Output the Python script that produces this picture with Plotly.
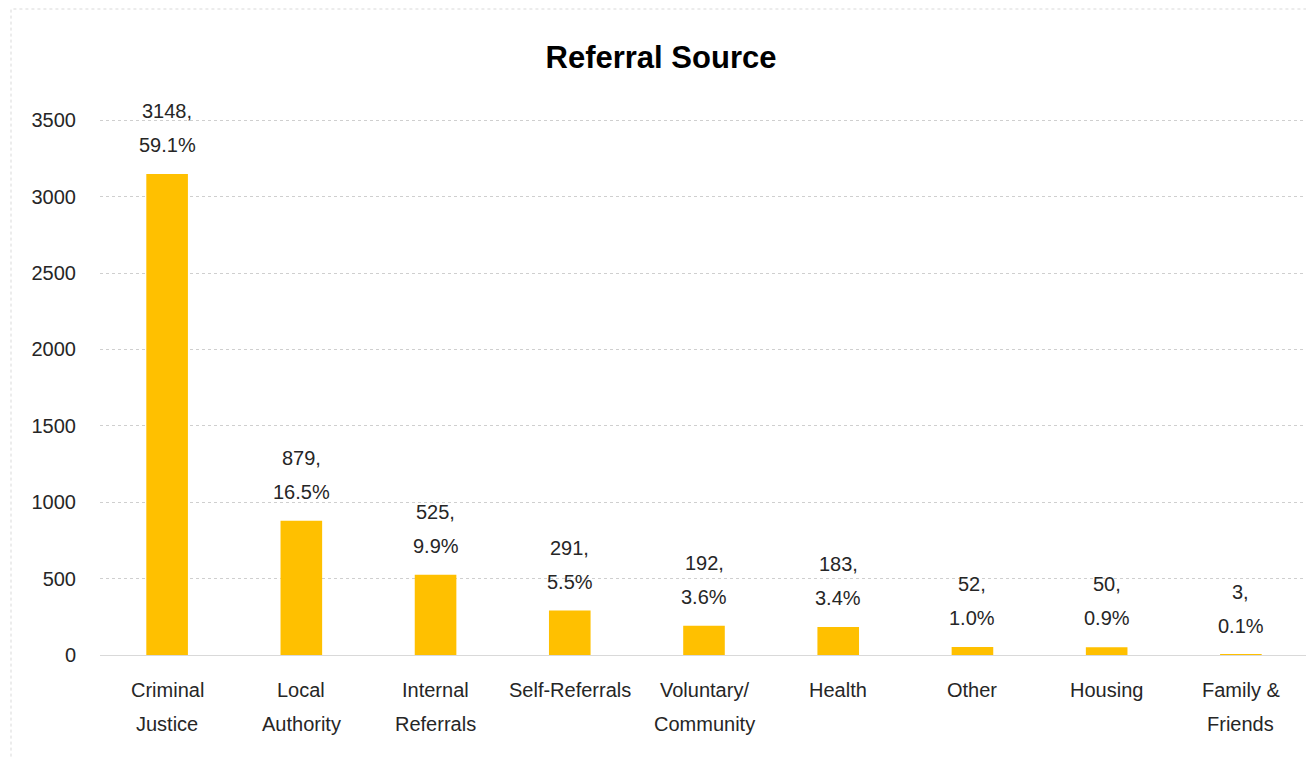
import plotly.graph_objects as go

# Referral source data
categories = ["Criminal Justice", "Local Authority", "Internal Referrals",
              "Self-Referrals", "Voluntary/ Community", "Health", "Other",
              "Housing", "Family & Friends"]
label_lines = [("Criminal", "Justice"), ("Local", "Authority"), ("Internal", "Referrals"),
               ("Self-Referrals", ""), ("Voluntary/", "Community"), ("Health", ""),
               ("Other", ""), ("Housing", ""), ("Family &", "Friends")]
counts = [3148, 879, 525, 291, 192, 183, 52, 50, 3]
shares = ["59.1%", "16.5%", "9.9%", "5.5%", "3.6%", "3.4%", "1.0%", "0.9%", "0.1%"]
y_ticks = [0, 500, 1000, 1500, 2000, 2500, 3000, 3500]

font_family = "Liberation Sans"
text_color = "#262626"
fsize = 20

fig = go.Figure()

fig.add_trace(go.Bar(
    x=categories,
    y=counts,
    marker=dict(color="#FFC000", line=dict(width=0)),
    width=0.31,
    cliponaxis=False,
))

# data labels, two lines each, Excel-like spacing
for cat, c, s in zip(categories, counts, shares):
    fig.add_annotation(x=cat, y=c, text=f"{c},", showarrow=False, yanchor="middle",
                       yshift=63, font=dict(family=font_family, size=fsize, color=text_color))
    fig.add_annotation(x=cat, y=c, text=s, showarrow=False, yanchor="middle",
                       yshift=29, font=dict(family=font_family, size=fsize, color=text_color))

# category labels
for cat, (l1, l2) in zip(categories, label_lines):
    fig.add_annotation(x=cat, y=0, yref="paper", text=l1, showarrow=False, yanchor="middle",
                       yshift=-35, font=dict(family=font_family, size=fsize, color=text_color))
    if l2:
        fig.add_annotation(x=cat, y=0, yref="paper", text=l2, showarrow=False, yanchor="middle",
                           yshift=-69, font=dict(family=font_family, size=fsize, color=text_color))

fig.update_layout(
    title=dict(
        text="<b>Referral Source</b>",
        x=0.5, xanchor="center",
        y=1 - 49 / 749, yanchor="middle",
        font=dict(family=font_family, size=31, color="#000000"),
    ),
    width=1306,
    height=749,
    margin=dict(l=92, r=6, t=110, b=102),
    plot_bgcolor="white",
    paper_bgcolor="white",
    showlegend=False,
    bargap=0.69,
    font=dict(family=font_family, size=fsize, color=text_color),
)

fig.update_xaxes(
    showgrid=False,
    showline=True,
    linecolor="#D9D9D9",
    linewidth=1,
    ticks="",
    showticklabels=False,
)

fig.update_yaxes(
    range=[0, 3515],
    tickvals=y_ticks,
    showgrid=True,
    gridcolor="#CFCFCF",
    griddash="dot",
    gridwidth=1,
    zeroline=False,
    showline=False,
    ticks="",
    ticklabelstandoff=23,
    tickfont=dict(family=font_family, size=fsize, color=text_color),
)

# Light chart border
fig.add_shape(
    type="rect", xref="paper", yref="paper",
    x0=-89 / 1208, x1=1.02, y0=-0.3, y1=1 + 109 / 537,
    line=dict(color="#D9D9D9", width=1, dash="dot"),
    fillcolor="rgba(0,0,0,0)", layer="below",
)

fig.write_html("out.html")
